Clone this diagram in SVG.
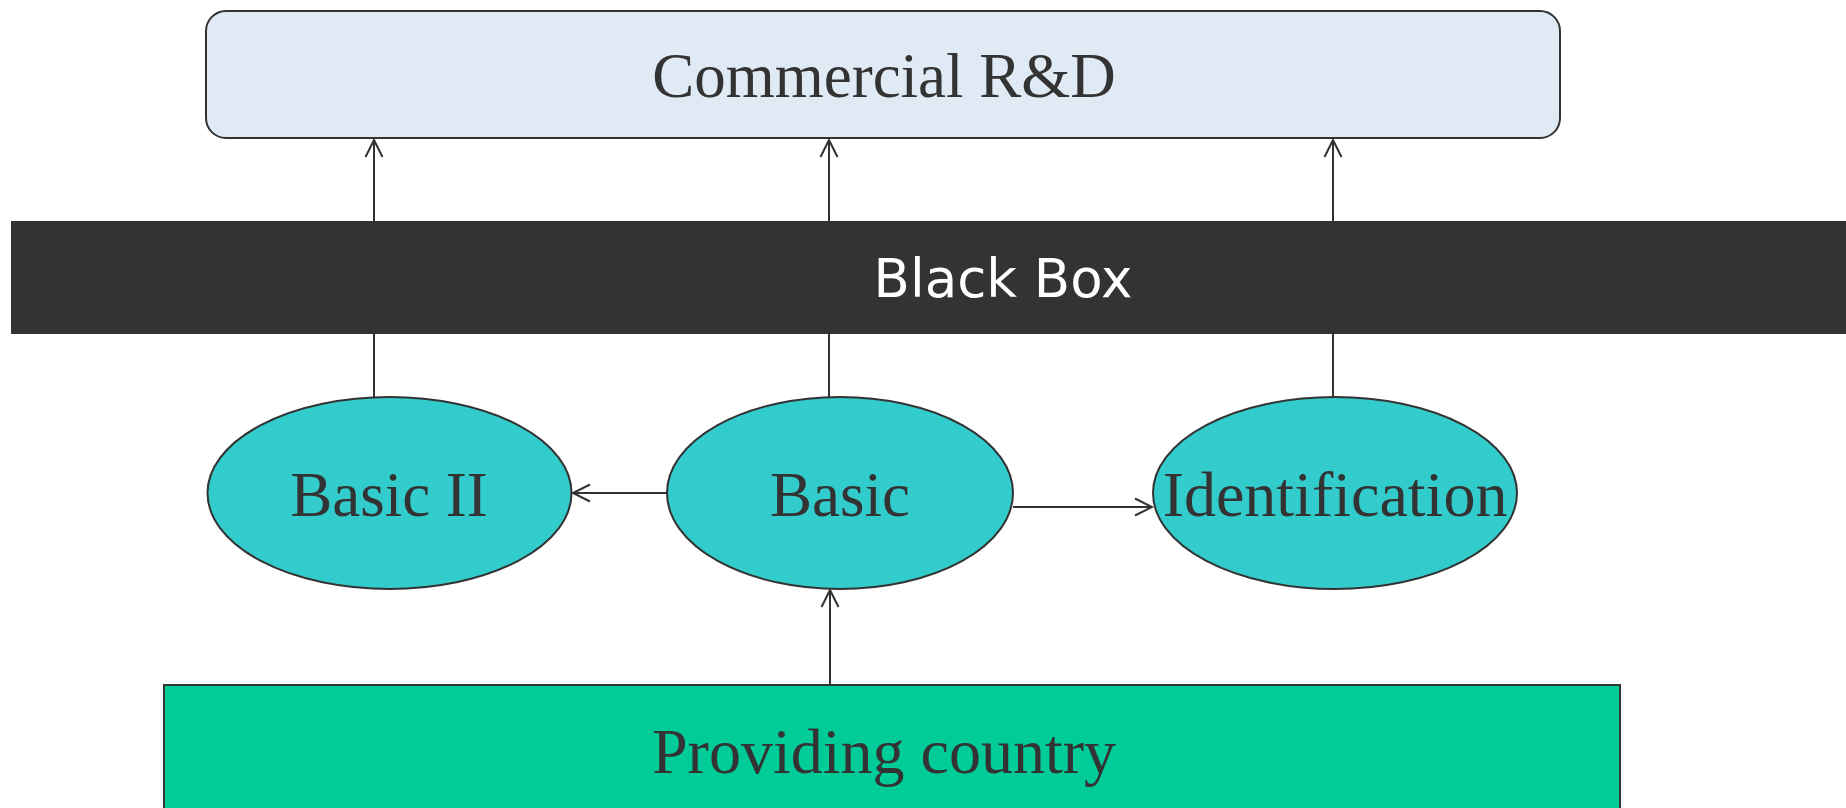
<svg xmlns="http://www.w3.org/2000/svg" width="1846" height="808" viewBox="0 0 1846 808">
  <style>
    .edge { fill: none; stroke: #333333; stroke-width: 2; }
    .oval { fill: #33CCCC; stroke: #333333; stroke-width: 2; }
    .serif { font-family: "Liberation Serif", "Times New Roman", serif; fill: #333333; text-anchor: middle; }
    .sans { font-family: "DejaVu Sans", Verdana, sans-serif; fill: #FFFFFF; text-anchor: middle; }
  </style>
  <defs>
    <marker id="arrow" viewBox="-20 -12 24 24" refX="0" refY="0" markerWidth="24" markerHeight="24" markerUnits="userSpaceOnUse" orient="auto">
      <path d="M-17,-8.5 L0,0 L-17,8.5" fill="none" stroke="#333333" stroke-width="2"/>
    </marker>
  </defs>
  <rect width="1846" height="808" fill="#FFFFFF"/>

  <!-- connectors -->
  <g id="connectors">
    <line class="edge" x1="374" y1="397" x2="374" y2="140" marker-end="url(#arrow)"/>
    <line class="edge" x1="829" y1="397" x2="829" y2="140" marker-end="url(#arrow)"/>
    <line class="edge" x1="1333" y1="397" x2="1333" y2="140" marker-end="url(#arrow)"/>
    <line class="edge" x1="667" y1="493" x2="573" y2="493" marker-end="url(#arrow)"/>
    <line class="edge" x1="1013" y1="507" x2="1152" y2="507" marker-end="url(#arrow)"/>
    <line class="edge" x1="830" y1="685" x2="830" y2="590" marker-end="url(#arrow)"/>
  </g>

  <!-- nodes -->
  <g id="commercial-rd">
    <rect x="206" y="11" width="1354" height="127" rx="20" ry="20" fill="#E0EAF4" stroke="#333333" stroke-width="2"/>
    <text class="serif" x="884" y="97" font-size="63">Commercial R&amp;D</text>
  </g>

  <g id="black-box">
    <rect x="11" y="221" width="1835" height="113" fill="#333333"/>
    <text class="sans" x="1003" y="297" font-size="53">Black Box</text>
  </g>

  <g id="basic-ii">
    <ellipse class="oval" cx="389.5" cy="493" rx="182" ry="96"/>
    <text class="serif" x="389" y="516" font-size="63">Basic II</text>
  </g>

  <g id="basic">
    <ellipse class="oval" cx="840" cy="493" rx="173" ry="96"/>
    <text class="serif" x="840" y="516" font-size="63">Basic</text>
  </g>

  <g id="identification">
    <ellipse class="oval" cx="1335" cy="493" rx="182" ry="96"/>
    <text class="serif" x="1335" y="516" font-size="64">Identification</text>
  </g>

  <g id="providing-country">
    <rect x="164" y="685" width="1456" height="140" fill="#00CC99" stroke="#333333" stroke-width="2"/>
    <text class="serif" x="884" y="773" font-size="64">Providing country</text>
  </g>
</svg>
